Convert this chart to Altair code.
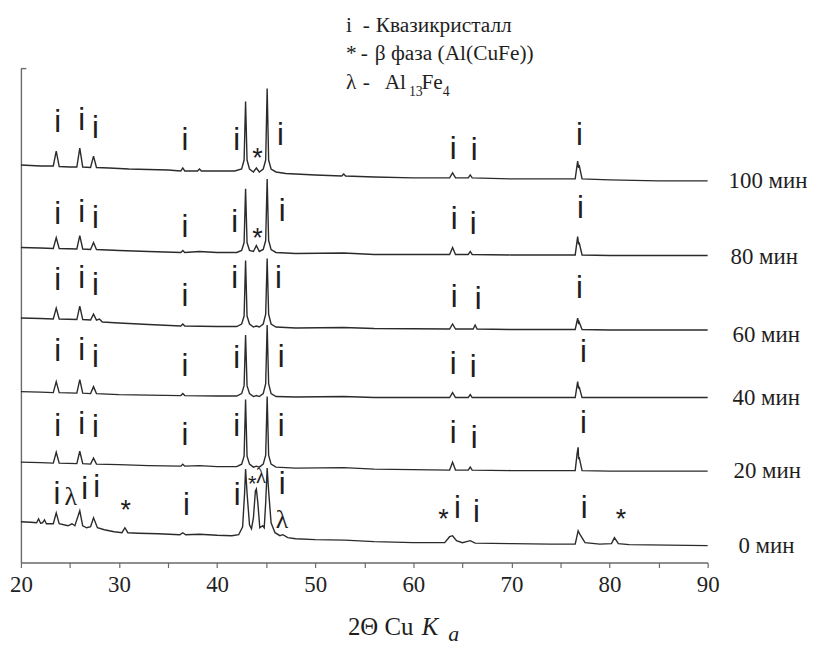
import altair as alt
import pandas as pd

# ---------------- data ----------------
# each trace: (2theta, stacked intensity in arbitrary units)
t100 = [(20, 400), (21, 399.5), (22, 399), (23.3, 399), (23.6, 414), (23.9, 398.5), (25, 398), (25.7, 398),
        (26.0, 417), (26.3, 398), (27.1, 397.5), (27.4, 409), (27.7, 397.5), (29, 397), (31, 396), (33, 395.5),
        (35, 395), (36.3, 394), (36.5, 397), (36.7, 394), (38.0, 394), (38.2, 396), (38.4, 394), (40, 394),
        (41.8, 394), (42.5, 396), (42.75, 405), (42.9, 464), (43.05, 405), (43.3, 396), (43.7, 393), (44.0, 397),
        (44.3, 393), (44.7, 396), (44.95, 405), (45.1, 477), (45.25, 405), (45.5, 396), (46, 393), (47, 391.5),
        (50, 390), (52.7, 389), (52.9, 391), (53.1, 389), (56, 388), (60, 387), (63.7, 387), (64.0, 392),
        (64.3, 387), (65.6, 387), (65.8, 390), (66.0, 387), (70, 386), (76.5, 386), (76.75, 404), (76.85, 397),
        (76.9, 400), (77.2, 386), (80, 385), (85, 384), (90, 384)]
t80 = [(20, 317), (22, 316.5), (23.3, 316), (23.6, 327), (23.9, 316), (25.7, 315.5), (26.0, 329), (26.3, 315.5),
       (27.1, 315), (27.4, 322), (27.7, 315), (30, 314), (33, 313), (36.3, 312), (36.5, 314), (36.7, 312),
       (38.2, 313), (40, 312), (42.0, 312), (42.5, 314), (42.75, 322), (42.9, 376), (43.05, 322), (43.3, 314),
       (43.7, 313), (44.0, 319), (44.3, 313), (44.7, 315), (44.95, 324), (45.1, 386), (45.25, 324), (45.5, 315),
       (46, 312), (48, 311), (52.9, 311.5), (56, 310), (63.7, 310), (64.0, 317), (64.3, 310), (65.6, 310),
       (65.8, 313), (66.0, 310), (70, 309.5), (76.5, 309.5), (76.75, 328), (76.85, 320), (76.9, 322),
       (77.2, 309.5), (80, 309), (90, 309)]
t60 = [(20, 246), (22, 245.5), (23.3, 245), (23.6, 256), (23.9, 245), (25.7, 244.5), (26.0, 258), (26.3, 244.5),
       (27.1, 244), (27.4, 250), (27.7, 244), (28.0, 245), (28.3, 242), (30, 241), (33, 239.5), (36.3, 238),
       (36.5, 240), (36.7, 238), (40, 237.5), (42.0, 237.5), (42.5, 240), (42.75, 248), (42.9, 304), (43.05, 248),
       (43.3, 240), (43.7, 237), (44.0, 238), (44.3, 237), (44.7, 240), (44.95, 250), (45.1, 306), (45.25, 250),
       (45.5, 240), (46, 237), (48, 236), (52.9, 236.5), (56, 235.5), (63.7, 235), (64.0, 240), (64.3, 235),
       (66.1, 235), (66.3, 239), (66.5, 235), (70, 234.5), (76.5, 234.5), (76.75, 246), (76.85, 240),
       (76.9, 242), (77.2, 234.5), (80, 234), (90, 234)]
t40 = [(20, 172), (22, 171.5), (23.3, 171), (23.6, 182), (23.9, 171), (25.7, 170.5), (26.0, 184), (26.3, 170.5),
       (27.1, 170), (27.4, 177), (27.7, 170), (30, 169), (33, 168.5), (36.3, 168), (36.5, 170), (36.7, 168),
       (40, 167.5), (42.0, 167.5), (42.5, 170), (42.75, 178), (42.9, 229), (43.05, 178), (43.3, 170), (43.7, 167),
       (44.0, 168), (44.3, 167), (44.7, 170), (44.95, 180), (45.1, 239), (45.25, 180), (45.5, 170), (46, 167),
       (48, 166.5), (52.9, 167), (56, 166), (63.7, 166), (64.0, 171), (64.3, 166), (65.6, 166), (65.8, 169),
       (66.0, 166), (70, 166), (76.5, 166), (76.75, 182), (76.85, 175), (76.9, 177), (77.2, 166), (80, 166),
       (90, 166)]
t20 = [(20, 101), (22, 100.5), (23.3, 100), (23.6, 111), (23.9, 100), (25.7, 99.5), (26.0, 112), (26.3, 99.5),
       (27.1, 99), (27.4, 105), (27.7, 99), (30, 98.5), (33, 97.5), (36.3, 97), (36.5, 99), (36.7, 97),
       (38.2, 97.5), (40, 96.5), (42.0, 96.5), (42.5, 99), (42.75, 107), (42.9, 164), (43.05, 107), (43.3, 99),
       (43.7, 96), (44.0, 97), (44.3, 96), (44.7, 99), (44.95, 108), (45.1, 167), (45.25, 108), (45.5, 99),
       (46, 96), (48, 95), (52.9, 95.5), (56, 94), (63.7, 93), (64.0, 101), (64.3, 93), (65.6, 93), (65.8, 96),
       (66.0, 93), (70, 92.5), (76.5, 92.5), (76.7, 110), (76.8, 116), (76.85, 104), (76.9, 106), (77.2, 92.5),
       (80, 92), (90, 92)]
t0 = [(20, 41), (21, 40.5), (21.6, 40), (21.8, 44), (22.0, 39.5), (22.2, 40), (22.4, 43), (22.6, 39), (23.3, 39),
      (23.6, 50), (23.9, 39), (24.8, 37), (25.2, 39), (25.5, 37), (26.0, 52), (26.3, 37), (26.7, 35), (27.1, 36),
      (27.4, 45), (27.8, 35), (28.5, 33), (29.5, 31), (30.3, 30), (30.6, 35), (30.9, 30), (32, 29.5), (34, 29),
      (36.2, 28), (36.5, 30), (36.8, 28), (38.2, 28.5), (40, 27.5), (41.5, 27), (42.2, 28), (42.6, 36),
      (42.8, 70), (42.9, 94), (43.05, 70), (43.3, 38), (43.5, 34), (43.7, 45), (43.9, 72), (44.0, 74),
      (44.15, 60), (44.35, 35), (44.5, 36), (44.65, 37), (44.8, 35), (44.95, 60), (45.1, 95), (45.25, 72),
      (45.5, 40), (45.9, 30), (46.4, 27), (46.7, 28), (47.2, 25), (48, 24), (50, 23), (53, 22.5), (56, 21),
      (60, 20), (63.2, 20), (63.7, 26), (64.0, 27), (64.4, 22), (65.0, 20), (65.8, 22), (66.3, 19.5), (70, 19),
      (74, 18.5), (76.5, 18.5), (76.8, 32), (77.0, 28), (77.5, 20), (79, 18.5), (80.2, 19), (80.5, 25),
      (80.9, 19), (82, 18), (86, 17.5), (90, 17)]

trace_names = ["100 мин", "80 мин", "60 мин", "40 мин", "20 мин", "0 мин"]
trace_data = [t100, t80, t60, t40, t20, t0]

# right-hand labels
label_x = [92.13, 92.33, 92.54, 92.54, 92.64, 93.14]
label_y = [384, 307, 229, 166, 92, 17]

# peak markers: "i" (quasicrystal)
i_x = [23.75, 26.18, 27.6, 36.72, 41.98, 46.44, 64.07, 66.2, 76.93,
       23.75, 26.18, 27.6, 36.72, 41.78, 46.64, 64.17, 66.1, 77.03,
       23.75, 26.18, 27.6, 36.72, 41.78, 46.24, 64.17, 66.6, 76.93,
       23.75, 26.18, 27.6, 36.72, 41.98, 46.54, 64.07, 66.1, 77.34,
       23.75, 26.18, 27.6, 36.72, 41.98, 46.54, 64.07, 66.2, 77.34,
       23.66, 26.5, 27.72, 36.86, 42.05, 46.62, 64.5, 66.43, 77.41]
i_y = [442, 444, 436, 424, 424, 429, 415, 414, 429,
       350, 352, 346, 337, 342, 353, 345, 340, 356,
       283, 285, 278, 267, 285, 285, 266, 264, 275,
       212, 213, 206, 197, 205, 206, 199, 196, 211,
       136, 138, 135, 127, 136, 136, 129, 124, 139,
       68, 73, 75, 57, 67, 78, 54, 50, 54]
# "*" markers (beta phase)
star_x = [44.11, 44.11, 30.67, 63.08, 81.16]
star_y = [412, 332, 58, 49, 49]
star_small_x = [43.57]
star_small_y = [84]
# lambda markers (Al13Fe4)
lam_x = [25.08, 46.62]
lam_y = [66, 43]
lam_small_x = [44.48]
lam_small_y = [86]

# legend pieces (text, x, baseline)
legend_txt = ["i", "-", "Квазикристалл", "*", "-", "β фаза (Al(CuFe))", "λ", "-", "Al", "Fe"]
legend_x = [53.13, 54.85, 56.17, 53.13, 54.65, 56.07, 53.13, 54.85, 57.08, 60.82]
legend_y = [534, 534, 534, 506, 506, 506, 476, 476, 476, 476]
legend_sub_txt = ["13", "4"]
legend_sub_x = [59.55, 63.0]
legend_sub_y = [469, 469]

# axis title pieces
title_txt = ["2Θ Cu", "K", "a"]
title_x = [53.33, 60.85, 63.55]
title_y = [-73, -73, -79]

x_ticks = [20 + 2.5 * k for k in range(29)]

LINE = "#2b2b2b"
AXIS = "#6a6a6a"
SERIF = "Liberation Serif"
SANS = "Liberation Sans"

# ---------------- tables ----------------
rows = []
for name, pts in zip(trace_names, trace_data):
    for xv, yv in pts:
        rows.append({"trace": name, "x": xv, "y": yv})
df = pd.DataFrame(rows)
labels_df = pd.DataFrame({"t": trace_names, "x": label_x, "y": label_y})
i_df = pd.DataFrame({"t": ["i"] * len(i_x), "x": i_x, "y": i_y})
star_df = pd.DataFrame({"t": ["*"] * len(star_x), "x": star_x, "y": star_y})
star_s_df = pd.DataFrame({"t": ["*"], "x": star_small_x, "y": star_small_y})
lam_df = pd.DataFrame({"t": ["λ"] * len(lam_x), "x": lam_x, "y": lam_y})
lam_s_df = pd.DataFrame({"t": ["λ"], "x": lam_small_x, "y": lam_small_y})
legend_df = pd.DataFrame({"t": legend_txt, "x": legend_x, "y": legend_y})
legend_sub_df = pd.DataFrame({"t": legend_sub_txt, "x": legend_sub_x, "y": legend_sub_y})
title_df = pd.DataFrame({"t": title_txt[:1], "x": title_x[:1], "y": title_y[:1]})
title_k_df = pd.DataFrame({"t": title_txt[1:2], "x": title_x[1:2], "y": title_y[1:2]})
title_a_df = pd.DataFrame({"t": title_txt[2:], "x": title_x[2:], "y": title_y[2:]})

xs = alt.Scale(domain=[20, 90], nice=False, zero=False)
ys = alt.Scale(domain=[0, 497], nice=False, zero=False)

x_axis = alt.Axis(values=x_ticks, title=None, grid=False, labelFlush=False,
                  labelExpr="datum.value % 10 == 0 ? datum.label : ''",
                  labelFont=SERIF, labelFontSize=23, labelColor="#222", labelPadding=6,
                  tickSize={"condition": {"test": "datum.value % 5 != 0", "value": 3}, "value": 5},
                  tickColor=AXIS, domainColor=AXIS, domainWidth=1.4, tickWidth=1.2)
y_axis = alt.Axis(title=None, labels=False, ticks=False, grid=False, domainColor=AXIS, domainWidth=1.4)

lines = alt.Chart(df).mark_line(color=LINE, strokeWidth=1.4).encode(
    x=alt.X("x:Q", scale=xs, axis=x_axis),
    y=alt.Y("y:Q", scale=ys, axis=y_axis),
    detail="trace:N",
)

cap = alt.Chart(pd.DataFrame({"a": [20], "b": [20.55], "y": [497]})).mark_rule(
    color=AXIS, strokeWidth=1.4).encode(x="a:Q", x2="b:Q", y="y:Q")


def txt(data, font, size, align="center", baseline="middle", dy=0, style="normal"):
    return alt.Chart(data).mark_text(font=font, fontSize=size, align=align, baseline=baseline,
                                     color="#1e1e1e", dy=dy, fontStyle=style).encode(
        x="x:Q", y="y:Q", text="t:N")


i_marks = txt(i_df, SANS, 31)
star_marks = txt(star_df, SANS, 27, dy=6)
star_s_marks = txt(star_s_df, SANS, 22, dy=5)
lam_marks = txt(lam_df, SERIF, 26)
lam_s_marks = txt(lam_s_df, SERIF, 21)
right_labels = txt(labels_df, SERIF, 23, align="left")
legend = txt(legend_df, SERIF, 21.5, align="left", baseline="alphabetic")
legend_sub = txt(legend_sub_df, SERIF, 14, align="left", baseline="alphabetic")
title = txt(title_df, SERIF, 25, align="left", baseline="alphabetic")
title_k = txt(title_k_df, SERIF, 25, align="left", baseline="alphabetic", style="italic")
title_a = txt(title_a_df, SERIF, 22, align="left", baseline="alphabetic", style="italic")

chart = alt.layer(
    lines, cap, i_marks, star_marks, star_s_marks, lam_marks, lam_s_marks, right_labels,
    legend, legend_sub, title, title_k, title_a,
).properties(
    width=691, height=497,
    autosize=alt.AutoSizeParams(type="none"),
    padding={"left": 13, "top": 59, "right": 104, "bottom": 82},
    background="white",
).configure_view(stroke=None)

chart.save("out.html", embed_options={"renderer": "svg", "actions": False})
